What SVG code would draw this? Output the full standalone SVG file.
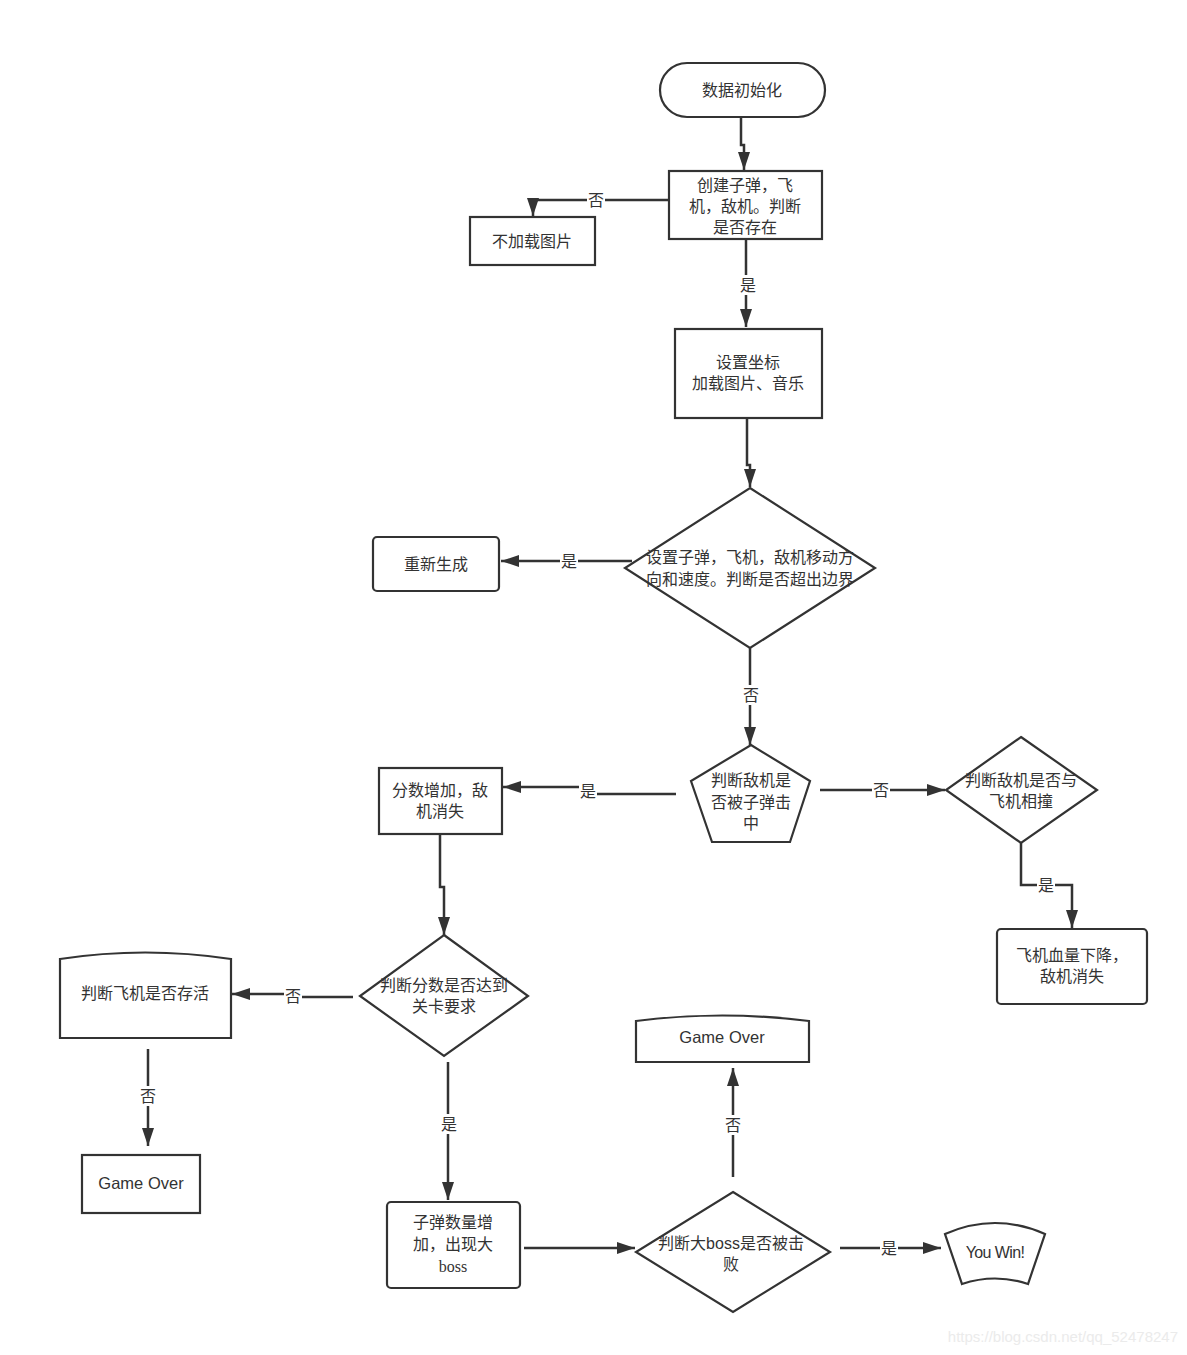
<svg xmlns="http://www.w3.org/2000/svg" width="1187" height="1355" viewBox="0 0 1187 1355">
<defs>
<style>
.s{fill:#fff;stroke:#333;stroke-width:2.2}
.t{font-family:"Liberation Sans","Noto Sans CJK SC",sans-serif;font-size:16px;fill:#333;text-anchor:middle;dominant-baseline:central}
.e{font-size:16.5px}
.l{fill:none;stroke:#333;stroke-width:2.5}
.lb{fill:#fff}
.wm{font-family:"Liberation Sans",sans-serif;font-size:15px;fill:#ebebeb;text-anchor:end}
</style>
<marker id="a" viewBox="0 0 18 12" refX="18" refY="6" markerWidth="18" markerHeight="12" markerUnits="userSpaceOnUse" orient="auto">
<path d="M0,0 L18,6 L0,12 z" fill="#333"/>
</marker>
</defs>
<rect width="1187" height="1355" fill="#fff"/>

<g id="connectors">
<path class="l" d="M741,118 V145 H744 V170" marker-end="url(#a)"/>
<path class="l" d="M669,200 H533 V216" marker-end="url(#a)"/>
<path class="l" d="M746,240 V327" marker-end="url(#a)"/>
<path class="l" d="M747,419 V465 H750 V487" marker-end="url(#a)"/>
<path class="l" d="M632,561 H501" marker-end="url(#a)"/>
<path class="l" d="M750,648 V745" marker-end="url(#a)"/>
<path class="l" d="M676,794 H588 V787 H503" marker-end="url(#a)"/>
<path class="l" d="M820,790 H945" marker-end="url(#a)"/>
<path class="l" d="M1021,843 V885 H1072 V928" marker-end="url(#a)"/>
<path class="l" d="M440,835 V887 H444 V935" marker-end="url(#a)"/>
<path class="l" d="M353,997 H293 V994 H232" marker-end="url(#a)"/>
<path class="l" d="M148,1049 V1146" marker-end="url(#a)"/>
<path class="l" d="M448,1062 V1200" marker-end="url(#a)"/>
<path class="l" d="M524,1248 H635" marker-end="url(#a)"/>
<path class="l" d="M733,1177 V1068" marker-end="url(#a)"/>
<path class="l" d="M840,1248 H941" marker-end="url(#a)"/>
<g>
<rect class="lb" x="587" y="190" width="18" height="20"/><text class="t" x="596" y="200">否</text>
<rect class="lb" x="739" y="275" width="18" height="20"/><text class="t" x="748" y="285">是</text>
<rect class="lb" x="560" y="551" width="18" height="20"/><text class="t" x="569" y="561">是</text>
<rect class="lb" x="742" y="685" width="18" height="20"/><text class="t" x="751" y="695">否</text>
<rect class="lb" x="579" y="781" width="18" height="20"/><text class="t" x="588" y="791">是</text>
<rect class="lb" x="872" y="780" width="18" height="20"/><text class="t" x="881" y="790">否</text>
<rect class="lb" x="1037" y="875" width="18" height="20"/><text class="t" x="1046" y="885">是</text>
<rect class="lb" x="284" y="986" width="18" height="20"/><text class="t" x="293" y="996">否</text>
<rect class="lb" x="139" y="1086" width="18" height="20"/><text class="t" x="148" y="1096">否</text>
<rect class="lb" x="440" y="1114" width="18" height="20"/><text class="t" x="449" y="1124">是</text>
<rect class="lb" x="724" y="1115" width="18" height="20"/><text class="t" x="733" y="1125">否</text>
<rect class="lb" x="880" y="1238" width="18" height="20"/><text class="t" x="889" y="1248">是</text>
</g>
</g>

<g id="n-init">
<rect class="s" x="660" y="63" width="165" height="54" rx="27"/>
<text class="t" x="742" y="90">数据初始化</text>
</g>
<g id="n-create">
<rect class="s" x="669" y="171" width="153" height="68"/>
<text class="t" x="745" y="185">创建子弹，飞</text>
<text class="t" x="745" y="206">机，敌机。判断</text>
<text class="t" x="745" y="227">是否存在</text>
</g>
<g id="n-noload">
<rect class="s" x="470" y="217" width="125" height="48"/>
<text class="t" x="532" y="241">不加载图片</text>
</g>
<g id="n-setcoord">
<rect class="s" x="675" y="329" width="147" height="89"/>
<text class="t" x="748" y="362">设置坐标</text>
<text class="t" x="748" y="383">加载图片、音乐</text>
</g>
<g id="n-bound">
<path class="s" d="M750,488 L875,568 L750,648 L625,568 Z"/>
<text class="t" x="750" y="557">设置子弹，飞机，敌机移动方</text>
<text class="t" x="750" y="579">向和速度。判断是否超出边界</text>
</g>
<g id="n-regen">
<rect class="s" x="373" y="537" width="126" height="54" rx="4"/>
<text class="t" x="436" y="564">重新生成</text>
</g>
<g id="n-hit">
<path class="s" d="M751,745 L810,781 L790,842 L712,842 L691,781 Z"/>
<text class="t" x="751" y="780">判断敌机是</text>
<text class="t" x="751" y="802">否被子弹击</text>
<text class="t" x="751" y="823">中</text>
</g>
<g id="n-score">
<rect class="s" x="379" y="768" width="123" height="66"/>
<text class="t" x="440" y="790">分数增加，敌</text>
<text class="t" x="440" y="811">机消失</text>
</g>
<g id="n-collide">
<path class="s" d="M1021,737 L1097,790 L1021,843 L946,790 Z"/>
<text class="t" x="1021" y="780">判断敌机是否与</text>
<text class="t" x="1021" y="801">飞机相撞</text>
</g>
<g id="n-hp">
<rect class="s" x="997" y="929" width="150" height="75" rx="4"/>
<text class="t" x="1072" y="955">飞机血量下降，</text>
<text class="t" x="1072" y="976">敌机消失</text>
</g>
<g id="n-level">
<path class="s" d="M444,935 L528,996 L444,1056 L360,996 Z"/>
<text class="t" x="444" y="985">判断分数是否达到</text>
<text class="t" x="444" y="1006">关卡要求</text>
</g>
<g id="n-alive">
<path class="s" d="M60,959 Q145,946 231,959 V1038 H60 Z"/>
<text class="t" x="145" y="993">判断飞机是否存活</text>
</g>
<g id="n-over1">
<rect class="s" x="82" y="1155" width="118" height="58"/>
<text class="t e" x="141" y="1183">Game Over</text>
</g>
<g id="n-boss">
<rect class="s" x="387" y="1202" width="133" height="86" rx="4"/>
<text class="t" x="453" y="1222">子弹数量增</text>
<text class="t" x="453" y="1244">加，出现大</text>
<text class="t" x="453" y="1266" style="font-family:'Liberation Serif',serif">boss</text>
</g>
<g id="n-bossdef">
<path class="s" d="M733,1192 L830,1252 L733,1312 L636,1252 Z"/>
<text class="t" x="731" y="1243">判断大boss是否被击</text>
<text class="t" x="731" y="1264">败</text>
</g>
<g id="n-over2">
<path class="s" d="M636,1021 Q722,1010 809,1021 V1062 H636 Z"/>
<text class="t e" x="722" y="1037">Game Over</text>
</g>
<g id="n-win">
<path class="s" d="M945,1234 Q995,1212 1045,1234 L1028,1284 Q995,1273 962,1284 Z"/>
<text class="t" x="995" y="1252" style="font-size:16px;letter-spacing:-0.6px">You Win!</text>
</g>
<text class="wm" x="1178" y="1342">https://blog.csdn.net/qq_52478247</text>
</svg>
